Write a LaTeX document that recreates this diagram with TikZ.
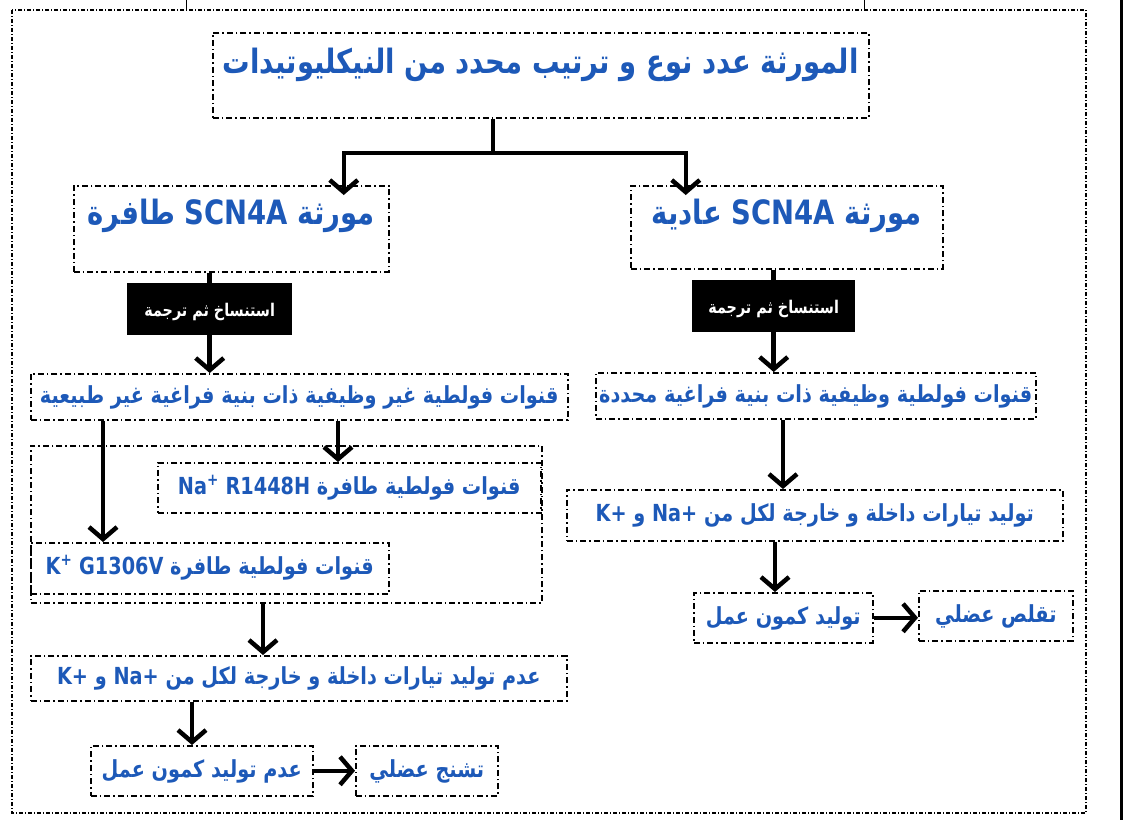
\documentclass[tikz,border=0pt]{standalone}
\usepackage{fontspec}
\usetikzlibrary{arrows.meta,positioning}
\TeXXeTstate=1
\newfontfamily\arabicfont[Script=Arabic,FakeStretch=0.82]{DejaVu Sans}
\definecolor{txtblue}{HTML}{1D59B8}

\begin{document}
\begin{tikzpicture}[x=1pt,y=-1pt,
  box/.style={draw,dash pattern=on 6pt off 3pt on 1.5pt off 3pt,line width=1.5pt,
    inner sep=0pt,anchor=north west,text=txtblue},
  big/.style={font=\arabicfont\bfseries\fontsize{33.5}{38}\selectfont},
  mid/.style={font=\arabicfont\bfseries\fontsize{23.5}{28}\selectfont},
  blk/.style={fill=black,inner sep=0pt,anchor=north west,text=white,
    font=\arabicfont\bfseries\fontsize{17.5}{20}\selectfont},
  arr/.style={line width=4.5pt,-{Straight Barb[length=12pt,width=28pt]}},
  link/.style={line width=4.5pt},
  frame/.style={dash pattern=on 4pt off 2pt on 1pt off 2pt,line width=1.4pt}]
\useasboundingbox (0,0) rectangle (1128,820);
\draw[frame] (12,10) rectangle (1086,813);
\draw[line width=1pt] (186,0) -- (186,10) (864,0) -- (864,10);
\draw[line width=3pt] (1121,0) -- (1121,820);

\node[box,big,minimum width=656,text height=41,text depth=44] (gene) at (212,32)
  {\beginR المورثة عدد نوع و ترتيب محدد من النيكليوتيدات\endR};
\node[box,big,minimum width=315,text height=39,text depth=47] (mutant) at (73,185)
  {\beginR مورثة \beginL SCN4A\endL{} طافرة\endR};
\node[box,big,minimum width=312,text height=39,text depth=44] (normal) at (630,185)
  {\beginR مورثة \beginL SCN4A\endL{} عادية\endR};

\node[blk,minimum width=165,text height=33,text depth=19] (tlL) at (127,283)
  {\beginR استنساخ ثم ترجمة\endR};
\node[blk,minimum width=163,text height=33,text depth=19] (tlR) at (692,280)
  {\beginR استنساخ ثم ترجمة\endR};

\node[box,mid,minimum width=537,text height=30,text depth=16] (chanA) at (30,373)
  {\beginR قنوات فولطية غير وظيفية ذات بنية فراغية غير طبيعية\endR};
\node[box,mid,minimum width=440,text height=30,text depth=16] (chanN) at (595,372)
  {\beginR قنوات فولطية وظيفية ذات بنية فراغية محددة\endR};

\node[box,minimum width=511,text height=157,text depth=0] (grp) at (30,445) {};
\node[box,mid,minimum width=383,text height=32,text depth=18] (naBox) at (157,462)
  {\beginR قنوات فولطية طافرة \beginL Na\textsuperscript{+} R1448H\endL\endR};
\node[box,mid,minimum width=358,text height=32,text depth=19] (kBox) at (30,542)
  {\beginR قنوات فولطية طافرة \beginL K\textsuperscript{+} G1306V\endL\endR};

\node[box,mid,minimum width=536,text height=29,text depth=16] (noCur) at (30,655)
  {\beginR عدم توليد تيارات داخلة و خارجة لكل من \beginL Na+\endL{} و \beginL K+\endL\endR};
\node[box,mid,minimum width=222,text height=32,text depth=18] (noAP) at (90,745)
  {\beginR عدم توليد كمون عمل\endR};
\node[box,mid,minimum width=142,text height=32,text depth=18] (spasm) at (355,745)
  {\beginR تشنج عضلي\endR};

\node[box,mid,minimum width=496,text height=32,text depth=19] (cur) at (566,489)
  {\beginR توليد تيارات داخلة و خارجة لكل من \beginL Na+\endL{} و \beginL K+\endL\endR};
\node[box,mid,minimum width=179,text height=32,text depth=18] (ap) at (693,592)
  {\beginR توليد كمون عمل\endR};
\node[box,mid,minimum width=154,text height=32,text depth=18] (contr) at (918,590)
  {\beginR تقلص عضلي\endR};

\coordinate (split) at (493,153);
\coordinate (colK) at (103,0);
\coordinate (colNa) at (338,0);
\coordinate (colG) at (263,0);
\coordinate (colAP) at (192,0);
\coordinate (colC) at (783,0);
\coordinate (colAP2) at (775,0);

\draw[link] (gene.south -| split) -- (split);
\draw[arr] (split) -| ([xshift=112.5pt,yshift=-10pt]mutant.north);
\draw[arr] (split) -| ([xshift=-101pt,yshift=-10pt]normal.north);
\draw[link] (mutant.south -| tlL.north) -- (tlL.north);
\draw[arr] (tlL.south) -- (tlL.south |- chanA.north);
\draw[link] (normal.south -| tlR.north) -- (tlR.north);
\draw[arr] (tlR.south) -- (tlR.south |- chanN.north);
\draw[arr] (chanA.south -| colK) -- (kBox.north -| colK);
\draw[arr] (chanA.south -| colNa) -- (naBox.north -| colNa);
\draw[arr] (grp.south -| colG) -- (noCur.north -| colG);
\draw[arr] (noCur.south -| colAP) -- (noAP.north -| colAP);
\draw[arr] (noAP.east) -- (spasm.west);
\draw[arr] (chanN.south -| colC) -- (cur.north -| colC);
\draw[arr] (cur.south -| colAP2) -- (ap.north -| colAP2);
\draw[arr] (ap.east) -- (ap.east -| contr.west);
\end{tikzpicture}
\end{document}
